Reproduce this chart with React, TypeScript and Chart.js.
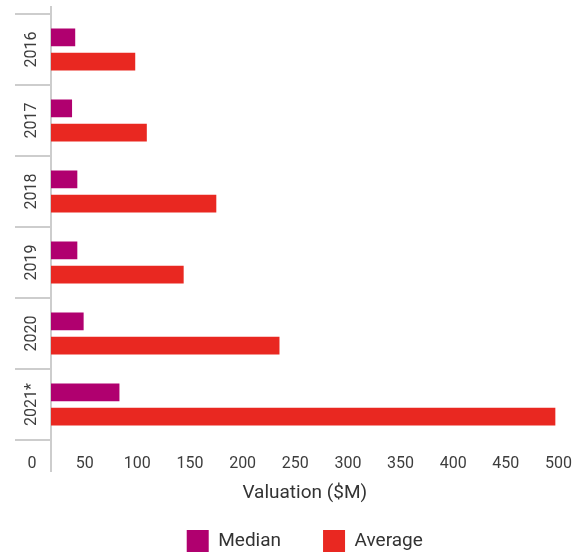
import React, { useEffect, useRef } from 'react';
import { Chart, registerables } from 'chart.js';

Chart.register(...registerables);

const CATEGORIES = ['2016', '2017', '2018', '2019', '2020', '2021*'];
const MEDIAN = [41, 38, 43, 43, 49, 83];
const AVERAGE = [98, 109, 175, 144, 235, 497];
const TICK_VALUES = [0, 50, 100, 150, 200, 250, 300, 350, 400, 450, 500];
const SERIES_LABELS = ['Median', 'Average'];
const AXIS_TITLE = 'Valuation ($M)';

const X_MIN = 18;
const X_MAX = 500;
const FONT = 'Roboto, "Noto Sans", sans-serif';
const GRID = '#cdcdcd';
const TEXT = '#3d3d3d';
const MEDIAN_COLOR = '#B0006F';
const AVERAGE_COLOR = '#E92821';

export default function App() {
  const ref = useRef<HTMLCanvasElement>(null);

  useEffect(() => {
    document.body.style.margin = '0';
    const canvas = ref.current;
    if (!canvas) return;
    const m = document.createElement('canvas').getContext('2d')!;
    m.font = `16px ${FONT}`;
    const widest = Math.max(...CATEGORIES.map((c) => m.measureText(c).width));

    const chart = new Chart(canvas, {
      type: 'bar',
      data: {
        labels: CATEGORIES,
        datasets: [
          { label: SERIES_LABELS[0], data: MEDIAN, backgroundColor: MEDIAN_COLOR, xAxisID: 'x' },
          { label: SERIES_LABELS[1], data: AVERAGE, backgroundColor: AVERAGE_COLOR, xAxisID: 'x' },
        ],
      },
      options: {
        indexAxis: 'y',
        responsive: false,
        maintainAspectRatio: false,
        animation: false,
        layout: { padding: { top: 6, right: 17.5, left: 0, bottom: 0 } },
        datasets: { bar: { categoryPercentage: 0.68, barPercentage: 0.74 } },
        scales: {
          y: {
            type: 'category',
            position: 'left',
            afterFit: (s: any) => {
              s.width = 51;
            },
            border: { display: true, color: GRID, width: 2 },
            grid: {
              offset: true,
              drawOnChartArea: false,
              drawTicks: true,
              tickLength: 36,
              color: GRID,
              lineWidth: 2,
            },
            ticks: {
              minRotation: 90,
              maxRotation: 90,
              crossAlign: 'center',
              padding: -16.7 - widest / 2,
              font: { family: FONT, size: 16 },
              color: TEXT,
            },
          },
          x: {
            type: 'linear',
            position: 'bottom',
            min: X_MIN,
            max: X_MAX,
            afterBuildTicks: (s: any) => {
              s.ticks = [TICK_VALUES[0], X_MIN, ...TICK_VALUES.slice(1)].map((v) => ({ value: v }));
            },
            border: { display: false },
            grid: {
              drawOnChartArea: false,
              drawTicks: true,
              tickLength: 32,
              lineWidth: 2,
              color: (c: any) => (c.tick && c.tick.value === X_MIN ? GRID : 'rgba(0,0,0,0)'),
            },
            ticks: {
              autoSkip: false,
              maxRotation: 0,
              padding: -18,
              font: { family: FONT, size: 16 },
              color: TEXT,
              callback: (v: any) => (v === X_MIN ? '' : String(v)),
            },
            title: {
              display: true,
              text: AXIS_TITLE,
              font: { family: FONT, size: 19 },
              color: '#333',
              padding: { top: 27, bottom: -17 },
            },
          },
          x2: {
            type: 'linear',
            position: 'top',
            min: X_MIN,
            max: X_MAX,
            afterBuildTicks: (s: any) => {
              s.ticks = [{ value: X_MIN }];
            },
            border: { display: false },
            ticks: { display: false },
            grid: { drawOnChartArea: false, drawTicks: true, tickLength: 8, lineWidth: 2, color: GRID },
          },
        },
        plugins: {
          legend: {
            position: 'bottom',
            fullSize: false,
            maxHeight: 67,
            labels: {
              boxWidth: 22,
              boxHeight: 22,
              padding: 42,
              font: { family: FONT, size: 19 },
              color: '#333',
            },
          },
          tooltip: { enabled: false },
        },
      } as any,
    });
    return () => chart.destroy();
  }, []);

  return (
    <div style={{ width: 576, height: 555 }}>
      <canvas ref={ref} width={576} height={555} style={{ display: 'block' }} />
    </div>
  );
}
